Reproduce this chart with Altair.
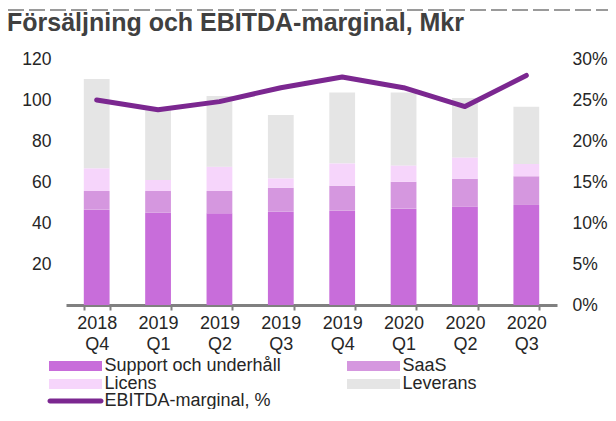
import altair as alt
import pandas as pd

quarters = ["2018 Q4", "2019 Q1", "2019 Q2", "2019 Q3", "2019 Q4", "2020 Q1", "2020 Q2", "2020 Q3"]
segments = ["Support och underhåll", "SaaS", "Licens", "Leverans"]
seg_colors = ["#C86DDA", "#D597DF", "#F6D5FB", "#E5E5E5"]
support = [46.5, 45.0, 44.7, 45.5, 46.0, 47.0, 48.0, 48.8]
saas = [9.1, 10.6, 10.9, 11.7, 12.2, 13.1, 13.6, 14.0]
licens = [11.1, 5.4, 11.9, 4.6, 10.9, 8.0, 10.4, 6.0]
leverans = [43.5, 35.0, 34.5, 30.9, 34.5, 35.5, 29.0, 27.9]
ebitda = [25.0, 23.8, 24.8, 26.5, 27.8, 26.5, 24.2, 28.0]
line_name = "EBITDA-marginal, %"
line_color = "#7B2790"
left_ticks = [0, 20, 40, 60, 80, 100, 120]
right_ticks = [0, 5, 10, 15, 20, 25, 30]

rows = []
for i, q in enumerate(quarters):
    for k, (name, vals) in enumerate(zip(segments, [support, saas, licens, leverans])):
        rows.append({"quarter": q, "segment": name, "value": vals[i], "ord": k})
bars_df = pd.DataFrame(rows)
line_df = pd.DataFrame({"quarter": quarters, "ebitda": ebitda, "series": [line_name] * len(quarters)})

FONT = "Liberation Sans"
TXT = "#262626"

x_enc = alt.X(
    "quarter:N",
    sort=quarters,
    title=None,
    scale=alt.Scale(paddingInner=0.58, paddingOuter=0.29),
    axis=alt.Axis(
        labelAngle=0,
        labelExpr="split(datum.label, ' ')",
        labelFontSize=18,
        labelFont=FONT,
        labelColor=TXT,
        labelLineHeight=21,
        labelPadding=4,
        domainColor="#808080",
        domainWidth=3,
        tickColor="#808080",
        tickWidth=2,
        tickSize=5,
        tickBand="extent",
        grid=False,
    ),
)

rect_path = "M-5.3,-1H5.3V1H-5.3Z"

bars = alt.Chart(bars_df).mark_bar().encode(
    x=x_enc,
    y=alt.Y(
        "value:Q",
        stack="zero",
        title=None,
        scale=alt.Scale(domain=[0, 120]),
        axis=alt.Axis(
            orient="left",
            values=left_ticks,
            labelExpr="datum.value == 0 ? '' : datum.label",
            labelFontSize=17.5,
            labelFont=FONT,
            labelColor=TXT,
            labelPadding=15,
            domain=False,
            ticks=False,
            grid=False,
        ),
    ),
    color=alt.Color(
        "segment:N",
        scale=alt.Scale(domain=segments, range=seg_colors),
        legend=alt.Legend(
            title=None,
            orient="none",
            legendX=-21,
            legendY=298,
            columns=2,
            direction="horizontal",
            symbolType=rect_path,
            symbolSize=100,
            symbolOffset=21.5,
            symbolStrokeWidth=0,
            labelOffset=20,
            labelLimit=400,
            labelFontSize=18,
            labelFont=FONT,
            labelColor=TXT,
            columnPadding=62,
            rowPadding=0,
        ),
    ),
    order=alt.Order("ord:Q"),
)

round_path = "M-5.1,-0.5H5.1A0.5,0.5 0 0 1 5.1,0.5H-5.1A0.5,0.5 0 0 1 -5.1,-0.5Z"

line = alt.Chart(line_df).mark_line(strokeWidth=5, strokeCap="round", strokeJoin="round").encode(
    x=alt.X("quarter:N", sort=quarters),
    y=alt.Y(
        "ebitda:Q",
        title=None,
        scale=alt.Scale(domain=[0, 30]),
        axis=alt.Axis(
            orient="right",
            values=right_ticks,
            labelExpr="datum.value + '%'",
            labelFontSize=17.5,
            labelFont=FONT,
            labelColor=TXT,
            labelPadding=15,
            domain=False,
            ticks=False,
            grid=False,
        ),
    ),
    stroke=alt.Stroke(
        "series:N",
        scale=alt.Scale(domain=[line_name], range=[line_color]),
        legend=alt.Legend(
            title=None,
            orient="none",
            legendX=-21,
            legendY=333,
            symbolType=round_path,
            symbolSize=100,
            symbolOffset=21.5,
            symbolFillColor=line_color,
            symbolStrokeWidth=0,
            labelOffset=20,
            labelLimit=400,
            labelFontSize=18,
            labelFont=FONT,
            labelColor=TXT,
        ),
    ),
)

dash_line = alt.Chart(pd.DataFrame({"a": [0]})).mark_rule(
    color="#9A9A9A", strokeWidth=2, strokeDash=[16, 5]
).encode(x=alt.value(-58), x2=alt.value(550), y=alt.value(-49))

chart = (
    alt.layer(bars, line, dash_line)
    .resolve_scale(y="independent")
    .properties(
        width=491,
        height=246,
        autosize=alt.AutoSizeParams(type="none"),
        padding={"left": 58, "top": 51, "right": 51, "bottom": 104},
        title=alt.TitleParams(
            "Försäljning och EBITDA-marginal, Mkr",
            anchor="start",
            frame="group",
            fontSize=25,
            fontWeight="bold",
            font=FONT,
            color="#404040",
            dx=-59,
            dy=31,
        ),
    )
    .configure_view(stroke=None)
)

chart.save("out.html", embed_options={"renderer": "svg", "actions": False})
